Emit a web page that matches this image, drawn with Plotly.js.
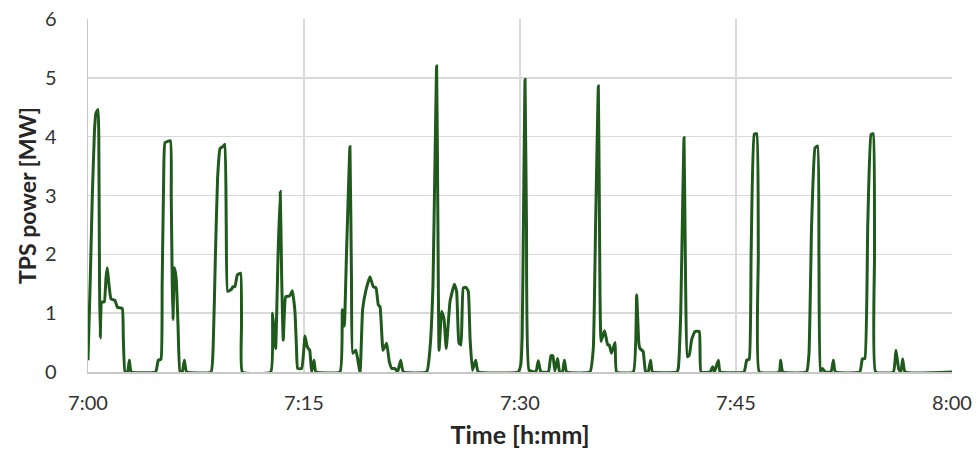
<!DOCTYPE html>
<html>
<head>
<meta charset="utf-8">
<script src="https://cdn.plot.ly/plotly-3.0.1.min.js"></script>
<style>
  html, body { margin: 0; padding: 0; background: #ffffff; }
  #chart { width: 978px; height: 457px; }
</style>
</head>
<body>
<div id="chart"></div>
<script>
// Minutes after 7:00 for each sample of the TPS power trace
const minutes = [
  0.00, 0.15, 0.30, 0.45, 0.55, 0.70, 0.75, 0.80, 0.85, 0.95, 1.13, 1.25, 1.34, 1.45, 1.60, 1.87, 2.04, 2.38, 2.45, 2.57, 2.75, 2.87, 3.00,
  4.70, 4.88, 5.07, 5.15, 5.25, 5.35, 5.72, 5.78, 5.85, 5.90, 6.00, 6.13, 6.25, 6.39, 6.55, 6.69, 6.85,
  8.54, 8.70, 8.85, 9.00, 9.17, 9.40, 9.51, 9.60, 9.70, 9.98, 10.05, 10.20, 10.37, 10.60, 10.66, 10.72,
  12.69, 12.82, 12.92, 13.03, 13.20, 13.35, 13.45, 13.56, 13.73, 14.00, 14.19, 14.30, 14.38, 14.48, 14.56, 14.84,
  15.07, 15.20, 15.30, 15.40, 15.53, 15.69, 15.83,
  17.50, 17.66, 17.80, 17.95, 18.19, 18.30, 18.38, 18.60, 18.89, 19.07, 19.31, 19.58, 19.81, 20.00, 20.16, 20.28,
  20.49, 20.74, 20.92, 21.10, 21.32, 21.50, 21.71, 21.90,
  23.52, 23.75, 23.95, 24.21, 24.30, 24.38, 24.56, 24.72, 24.88, 25.14, 25.44, 25.60, 25.76, 25.90, 26.06, 26.25,
  26.41, 26.53, 26.70, 26.92, 27.10,
  29.88, 30.05, 30.15, 30.25, 30.35, 30.45, 30.63, 31.10, 31.27, 31.45, 31.97, 32.15, 32.28, 32.42, 32.61, 32.75,
  32.95, 33.08, 33.24,
  34.86, 35.09, 35.25, 35.44, 35.52, 35.63, 35.86, 35.95, 36.09, 36.20, 36.35, 36.60, 36.71,
  37.87, 38.10, 38.25, 38.33, 38.55, 38.72, 38.90, 39.07, 39.20,
  40.90, 40.99, 41.15, 41.39, 41.50, 41.62, 41.75, 41.92, 42.15, 42.45, 42.57, 43.20, 43.38, 43.50, 43.77, 43.90,
  45.56, 45.74, 45.92, 46.05, 46.27, 46.44, 46.55, 46.62, 48.00, 48.10, 48.25,
  49.90, 50.07, 50.25, 50.49, 50.67, 50.76, 50.85, 51.00, 51.20, 51.60, 51.76, 51.90,
  53.60, 53.77, 53.95, 54.15, 54.38, 54.53, 54.62, 54.70, 55.93, 56.11, 56.30, 56.45, 56.57, 56.74,
  60.00
];

// TPS power in MW at each sample
const powerMW = [
  0.20, 1.50, 3.00, 4.10, 4.40, 4.46, 4.00, 1.50, 0.58, 1.19, 1.19, 1.60, 1.77, 1.50, 1.24, 1.22, 1.10, 1.08, 0.60, 0.00, 0.00, 0.20, 0.00,
  0.00, 0.20, 0.22, 1.50, 3.20, 3.90, 3.93, 3.00, 1.50, 0.89, 1.77, 1.57, 0.80, 0.00, 0.00, 0.20, 0.00,
  0.00, 0.50, 2.00, 3.30, 3.80, 3.84, 3.87, 2.50, 1.37, 1.41, 1.45, 1.45, 1.65, 1.68, 0.80, 0.00,
  0.00, 1.00, 0.70, 0.40, 2.00, 3.07, 1.60, 0.54, 1.28, 1.29, 1.38, 1.20, 1.00, 0.40, 0.06, 0.06,
  0.61, 0.45, 0.40, 0.37, 0.00, 0.20, 0.00,
  0.00, 1.06, 0.78, 2.00, 3.83, 1.50, 0.32, 0.37, 0.00, 1.06, 1.40, 1.62, 1.45, 1.43, 1.14, 1.11,
  0.37, 0.49, 0.18, 0.06, 0.06, 0.00, 0.20, 0.00,
  0.00, 0.40, 1.43, 5.20, 2.50, 0.37, 1.03, 0.91, 0.40, 1.20, 1.49, 1.37, 0.49, 0.46, 1.43, 1.44,
  1.37, 0.58, 0.03, 0.20, 0.00,
  0.00, 0.12, 0.60, 2.80, 4.97, 2.50, 0.03, 0.00, 0.19, 0.00, 0.00, 0.28, 0.28, 0.02, 0.23, 0.00,
  0.00, 0.20, 0.00,
  0.00, 0.40, 2.50, 4.86, 2.50, 0.52, 0.70, 0.62, 0.46, 0.46, 0.32, 0.50, 0.00,
  0.00, 1.31, 0.50, 0.40, 0.35, 0.00, 0.00, 0.20, 0.00,
  0.00, 0.06, 0.89, 3.98, 1.50, 0.26, 0.28, 0.55, 0.69, 0.69, 0.00, 0.00, 0.09, 0.00, 0.20, 0.00,
  0.00, 0.20, 0.22, 2.00, 4.04, 4.05, 2.00, 0.00, 0.00, 0.20, 0.00,
  0.00, 0.32, 2.50, 3.81, 3.84, 2.00, 0.00, 0.06, 0.00, 0.00, 0.20, 0.00,
  0.00, 0.22, 0.23, 2.50, 4.04, 4.05, 2.00, 0.00, 0.00, 0.37, 0.05, 0.00, 0.22, 0.00,
  0.00
];

// Axis ticks
const xTickMinutes = [0, 15, 30, 45, 60];
const xTickLabels = ['7:00', '7:15', '7:30', '7:45', '8:00'];
const yTicks = [0, 1, 2, 3, 4, 5, 6];

const FONT = 'Lato, "Open Sans", sans-serif';
const GRID = '#d9d9d9';

const trace = {
  type: 'scatter',
  mode: 'lines',
  x: minutes,
  y: powerMW,
  line: { color: '#1f5a1c', width: 3, shape: 'spline', smoothing: 0.35 },
  hoverinfo: 'x+y'
};

const layout = {
  width: 978,
  height: 457,
  margin: { l: 88, r: 26, t: 19, b: 85 },
  paper_bgcolor: '#ffffff',
  plot_bgcolor: '#ffffff',
  showlegend: false,
  font: { family: FONT, color: '#333333' },
  xaxis: {
    range: [0, 60],
    tickmode: 'array',
    tickvals: xTickMinutes,
    ticktext: xTickLabels,
    showgrid: true,
    gridcolor: GRID,
    gridwidth: 1.5,
    zeroline: false,
    showline: true,
    linecolor: '#c8c8c8',
    linewidth: 1.5,
    ticks: 'outside',
    ticklen: 12,
    tickcolor: 'rgba(0,0,0,0)',
    tickfont: { family: FONT, size: 20, color: '#333333' },
    title: {
      text: '<b>Time [h:mm]</b>',
      font: { family: FONT, size: 25, color: '#262626' },
      standoff: 14
    },
    fixedrange: true
  },
  yaxis: {
    range: [0, 6],
    tickmode: 'array',
    tickvals: yTicks,
    showgrid: true,
    gridcolor: GRID,
    gridwidth: 1.5,
    zeroline: false,
    showline: true,
    linecolor: '#c8c8c8',
    linewidth: 1.5,
    ticks: 'outside',
    ticklen: 26,
    tickcolor: 'rgba(0,0,0,0)',
    tickfont: { family: FONT, size: 20, color: '#333333' },
    title: {
      text: '<b>TPS power [MW]</b>',
      font: { family: FONT, size: 23, color: '#262626' },
      standoff: 2
    },
    fixedrange: true
  }
};

Plotly.newPlot('chart', [trace], layout, { displayModeBar: false, staticPlot: true });
</script>
</body>
</html>
